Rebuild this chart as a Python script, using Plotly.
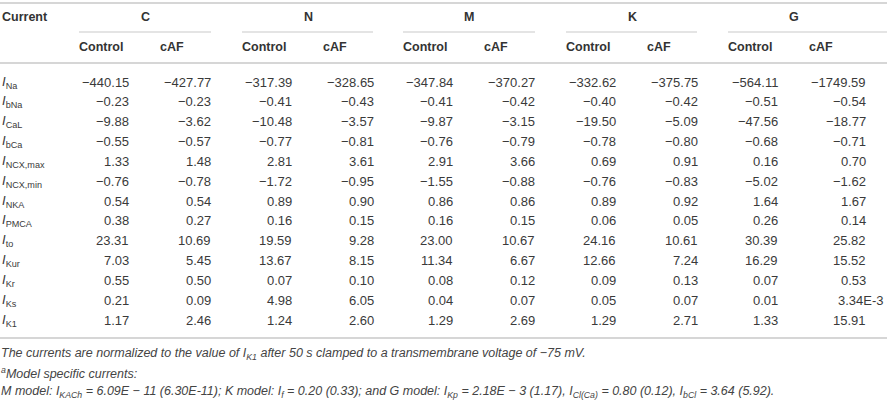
import plotly.graph_objects as go

# table values (normalized currents)
currents = ["Na", "bNa", "CaL", "bCa", "NCX,max", "NCX,min", "NKA", "PMCA",
            "to", "Kur", "Kr", "Ks", "K1"]
models = ["C", "N", "M", "K", "G"]
conditions = ["Control", "cAF"]

C_control = [-440.15, -0.23, -9.88, -0.55, 1.33, -0.76, 0.54, 0.38, 23.31, 7.03, 0.55, 0.21, 1.17]
C_caf = [-427.77, -0.23, -3.62, -0.57, 1.48, -0.78, 0.54, 0.27, 10.69, 5.45, 0.50, 0.09, 2.46]
N_control = [-317.39, -0.41, -10.48, -0.77, 2.81, -1.72, 0.89, 0.16, 19.59, 13.67, 0.07, 4.98, 1.24]
N_caf = [-328.65, -0.43, -3.57, -0.81, 3.61, -0.95, 0.90, 0.15, 9.28, 8.15, 0.10, 6.05, 2.60]
M_control = [-347.84, -0.41, -9.87, -0.76, 2.91, -1.55, 0.86, 0.16, 23.00, 11.34, 0.08, 0.04, 1.29]
M_caf = [-370.27, -0.42, -3.15, -0.79, 3.66, -0.88, 0.86, 0.15, 10.67, 6.67, 0.12, 0.07, 2.69]
K_control = [-332.62, -0.40, -19.50, -0.78, 0.69, -0.76, 0.89, 0.06, 24.16, 12.66, 0.09, 0.05, 1.29]
K_caf = [-375.75, -0.42, -5.09, -0.80, 0.91, -0.83, 0.92, 0.05, 10.61, 7.24, 0.13, 0.07, 2.71]
G_control = [-564.11, -0.51, -47.56, -0.68, 0.16, -5.02, 1.64, 0.26, 30.39, 16.29, 0.07, 0.01, 1.33]
G_caf = [-1749.59, -0.54, -18.77, -0.71, 0.70, -1.62, 1.67, 0.14, 25.82, 15.52, 0.53, 3.34e-3, 15.91]

columns = {
    "C": (C_control, C_caf),
    "N": (N_control, N_caf),
    "M": (M_control, M_caf),
    "K": (K_control, K_caf),
    "G": (G_control, G_caf),
}

footnotes = [
    "<i>The currents are normalized to the value of I<sub>K1</sub> after 50 s clamped to a "
    "transmembrane voltage of \u221275 mV.</i>",
    "<i><sup>a</sup>Model specific currents:</i>",
    "<i>M model: I<sub>KACh</sub> = 6.09E \u2212 11 (6.30E-11); K model: I<sub>f</sub> = 0.20 (0.33); "
    "and G model: I<sub>Kp</sub> = 2.18E \u2212 3 (1.17), I<sub>Cl(Ca)</sub> = 0.80 (0.12), "
    "I<sub>bCl</sub> = 3.64 (5.92).</i>",
]

# layout geometry (pixels)
W, H = 887, 402
group_start = [79, 242, 403, 566, 728]
group_end = [211, 373, 535, 697, 887]
ctrl_right = 50    # Control values right edge, from group start
caf_label = 81     # cAF label left edge, from group start
caf_right = 132    # cAF values right edge, from group start
row0, row_h = 82, 19.85
FONT = "Liberation Sans"
TXT = "#3a3a3a"
LINE = "#c9c9c9"


def fmt(v):
    if v != 0 and abs(v) < 0.005:
        m, e = f"{v:.2E}".split("E")
        return f"{m}E{int(e)}"
    s = f"{abs(v):.2f}"
    return ("\u2212" + s) if v < 0 else s


fig = go.Figure()
ann = []
shapes = []


def txt(x, y, t, anchor="left", size=13, color=TXT):
    ann.append(dict(x=x, y=y, xref="x", yref="y", text=t, showarrow=False,
                    xanchor=anchor, yanchor="middle",
                    font=dict(family=FONT, size=size, color=color),
                    borderpad=0, borderwidth=0))


def hline(x0, x1, y, w=1.5):
    shapes.append(dict(type="line", xref="x", yref="y", x0=x0, x1=x1, y0=y, y1=y,
                       line=dict(color=LINE, width=w)))


# rules
hline(0, W, 3)
hline(0, W, 63)
hline(0, W, 338)
for s, e in zip(group_start, group_end):
    hline(s, e, 32, 1.2)

# headers
txt(2, 17, "<b>Current</b>", size=12.5, color="#333")
for m, s in zip(models, group_start):
    txt(s + caf_right / 2, 17, f"<b>{m}</b>", anchor="center", size=12.5, color="#333")
    txt(s, 47, f"<b>{conditions[0]}</b>", size=12.5, color="#333")
    txt(s + caf_label, 47, f"<b>{conditions[1]}</b>", size=12.5, color="#333")

# body
for i, cur in enumerate(currents):
    y = row0 + i * row_h
    txt(2, y, f"<i>I</i><sub>{cur}</sub>")
    for m, s in zip(models, group_start):
        ctrl, caf = columns[m]
        txt(s + ctrl_right, y, fmt(ctrl[i]), anchor="right")
        label = fmt(caf[i])
        if m == "G":
            cr = 884 if "E" in label else s + caf_right + 6
        else:
            cr = s + caf_right
        txt(cr, y, label, anchor="right")

# footnotes
for j, fn in enumerate(footnotes):
    txt(1, 354 + j * 19.2, fn, size=12.5, color="#444")

fig.update_layout(
    width=W, height=H,
    margin=dict(l=0, r=0, t=0, b=0),
    paper_bgcolor="white", plot_bgcolor="white",
    xaxis=dict(range=[0, W], visible=False, fixedrange=True),
    yaxis=dict(range=[H, 0], visible=False, fixedrange=True),
    annotations=ann, shapes=shapes,
    showlegend=False,
)

# no page margin, so the figure fills the window exactly
fig.write_html("out.html", config={"displayModeBar": False},
               post_script="document.body.style.margin='0';document.body.style.overflow='hidden';")
